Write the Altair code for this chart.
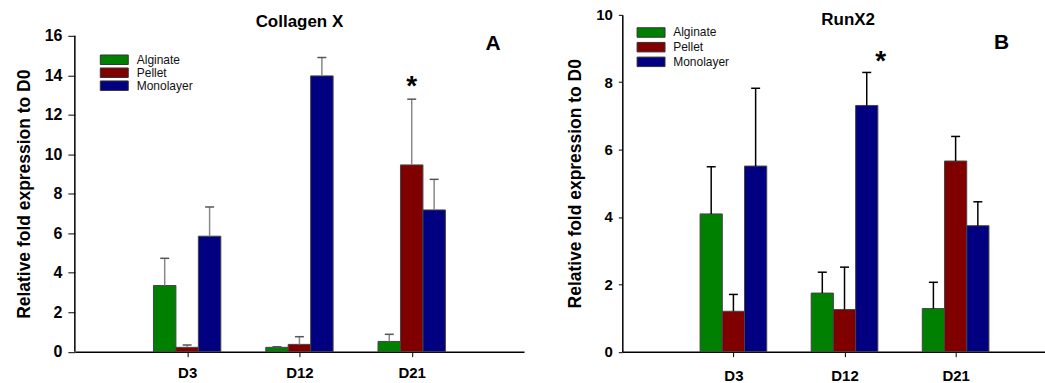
import altair as alt
import pandas as pd

days = ["D3", "D12", "D21"]
groups = ["Alginate", "Pellet", "Monolayer"]
colors = ["#008000", "#800000", "#000080"]

# Collagen X (panel A): bar means and upper error (SE) per group, per day
col_mean = {"Alginate": [3.35, 0.22, 0.52],
            "Pellet": [0.22, 0.37, 9.46],
            "Monolayer": [5.85, 13.97, 7.18]}
col_err = {"Alginate": [1.38, 0.03, 0.36],
           "Pellet": [0.12, 0.39, 3.33],
           "Monolayer": [1.48, 0.93, 1.55]}
col_ticks = [0, 2, 4, 6, 8, 10, 12, 14, 16]
col_star = [("D21", "Pellet")]

# RunX2 (panel B)
run_mean = {"Alginate": [4.09, 1.74, 1.28],
            "Pellet": [1.20, 1.25, 5.66],
            "Monolayer": [5.51, 7.31, 3.74]}
run_err = {"Alginate": [1.40, 0.62, 0.78],
           "Pellet": [0.50, 1.26, 0.73],
           "Monolayer": [2.31, 0.98, 0.71]}
run_ticks = [0, 2, 4, 6, 8, 10]
run_star = [("D12", "Monolayer")]

BW = 0.2  # bar width in category units
FONT = "Liberation Sans"
H = 337.5


def frame(means, errs):
    rows = []
    for gi, g in enumerate(groups):
        for di, d in enumerate(days):
            pos = di + 1 + (gi - 1) * BW
            rows.append({"day": d, "group": g, "gi": gi, "pos": pos,
                         "x1": pos - BW / 2, "x2": pos + BW / 2,
                         "mean": means[g][di], "base": 0.0,
                         "top": means[g][di] + errs[g][di]})
    return pd.DataFrame(rows)


def panel(means, errs, ticks, stars, title, letter, xmax, width, ymax,
          stem_color, cap_color, tick_size, lab_size, title_y, title_xy,
          leg_x, leg_y, lab_off, row_pad, star_dx, star_dy, letter_xy,
          x_lab_pad, draw_axis_rule):
    df = frame(means, errs)
    xs = alt.Scale(domain=[0, xmax], nice=False, zero=False)
    ys = alt.Scale(domain=[0, ymax], nice=False)
    label_expr = "[" + ",".join("'%s'" % d for d in days) + "][datum.value - 1]"
    xaxis = alt.Axis(values=[1, 2, 3], labelExpr=label_expr, title=None, grid=False,
                     tickSize=5, tickColor="#000", domainColor="#000", domainWidth=1.5,
                     labelFont=FONT, labelFontWeight="bold", labelFontSize=15,
                     labelColor="#000", labelPadding=x_lab_pad)
    yaxis = alt.Axis(values=ticks, grid=False, domain=not draw_axis_rule,
                     domainColor="#000", domainWidth=1.5,
                     tickSize=tick_size, tickColor="#000", tickWidth=1,
                     labelFont=FONT, labelFontWeight="bold", labelFontSize=lab_size,
                     labelColor="#000", labelPadding=6,
                     title="Relative fold expression to D0", titleFont=FONT,
                     titleFontWeight="bold", titleFontSize=17.5, titleColor="#000",
                     titlePadding=11, **({"titleY": title_y} if title_y is not None else {}))
    base = alt.Chart(df)
    bars = base.mark_bar(stroke="#444", strokeWidth=1).encode(
        x=alt.X("x1:Q", scale=xs, axis=xaxis),
        x2="x2:Q",
        y=alt.Y("mean:Q", scale=ys, axis=yaxis),
        y2="base:Q",
        color=alt.Color("group:N", scale=alt.Scale(domain=groups, range=colors),
                        legend=alt.Legend(title=None, orient="none", legendX=leg_x,
                                          legendY=leg_y, padding=0,
                                          symbolType="M-2.8,-0.95H2.8V0.95H-2.8Z",
                                          symbolSize=100, symbolStrokeColor="#333",
                                          symbolStrokeWidth=1, symbolOpacity=1,
                                          labelFont=FONT, labelFontSize=12,
                                          labelColor="#111", labelOffset=lab_off,
                                          rowPadding=row_pad)),
        order=alt.Order("gi:Q"),
    )
    stems = base.mark_rule(color=stem_color, strokeWidth=1.5).encode(
        x="pos:Q", y="mean:Q", y2="top:Q")
    caps = base.mark_tick(color=cap_color, orient="horizontal", size=9,
                          thickness=1.5, opacity=1).encode(x="pos:Q", y="top:Q")
    sdf = df[[(r.day, r.group) in stars for r in df.itertuples()]].assign(s="*")
    star = alt.Chart(sdf).mark_text(font=FONT, fontWeight="bold", fontSize=28,
                                     baseline="middle", dx=star_dx, dy=star_dy,
                                     color="#000").encode(x="pos:Q", y="top:Q", text="s:N")
    let = alt.Chart(pd.DataFrame({"t": [letter]})).mark_text(
        font=FONT, fontWeight="bold", fontSize=21, baseline="middle", color="#000"
    ).encode(text="t:N", x=alt.value(letter_xy[0]), y=alt.value(letter_xy[1]))
    ttl = alt.Chart(pd.DataFrame({"t": [title]})).mark_text(
        font=FONT, fontWeight="bold", fontSize=17, baseline="alphabetic",
        align="center", color="#000"
    ).encode(text="t:N", x=alt.value(title_xy[0]), y=alt.value(title_xy[1]))
    layers = [bars, stems, caps, star, let, ttl]
    if draw_axis_rule:
        adf = pd.DataFrame({"x": [0], "y": [0], "y2": [max(ticks)]})
        layers.append(alt.Chart(adf).mark_rule(color="#000", strokeWidth=1.5).encode(
            x="x:Q", y="y:Q", y2="y2:Q"))
    return alt.layer(*layers).properties(width=width, height=H)


left = panel(col_mean, col_err, col_ticks, col_star, "Collagen X", "A",
             xmax=4, width=450, ymax=16 * H / (352.5 - 36), stem_color="#888",
             cap_color="#555", tick_size=7, lab_size=16, title_y=(352.5 - 36) / 2 + 21,
             title_xy=(225, 11.7), leg_x=33.5, leg_y=39, lab_off=16.5, row_pad=-1.3,
             star_dx=0, star_dy=-12.5, letter_xy=(419, 29.5), x_lab_pad=9,
             draw_axis_rule=True)
right = panel(run_mean, run_err, run_ticks, run_star, "RunX2", "B",
              xmax=3.8, width=423, ymax=10, stem_color="#000", cap_color="#000",
              tick_size=4, lab_size=15, title_y=None, title_xy=(226.3, 10),
              leg_x=22.8, leg_y=11.7, lab_off=16.2, row_pad=0.7, star_dx=14,
              star_dy=-10.5, letter_xy=(380, 28.5), x_lab_pad=12, draw_axis_rule=False)

chart = alt.hconcat(left, right, spacing=42.5).resolve_scale(
    color="independent").resolve_legend(color="independent").properties(
    padding={"left": 15, "top": 7.5, "right": 0, "bottom": 0},
    background="white").configure_view(stroke=None)

chart.save("out.html", embed_options={"renderer": "svg", "actions": False})
